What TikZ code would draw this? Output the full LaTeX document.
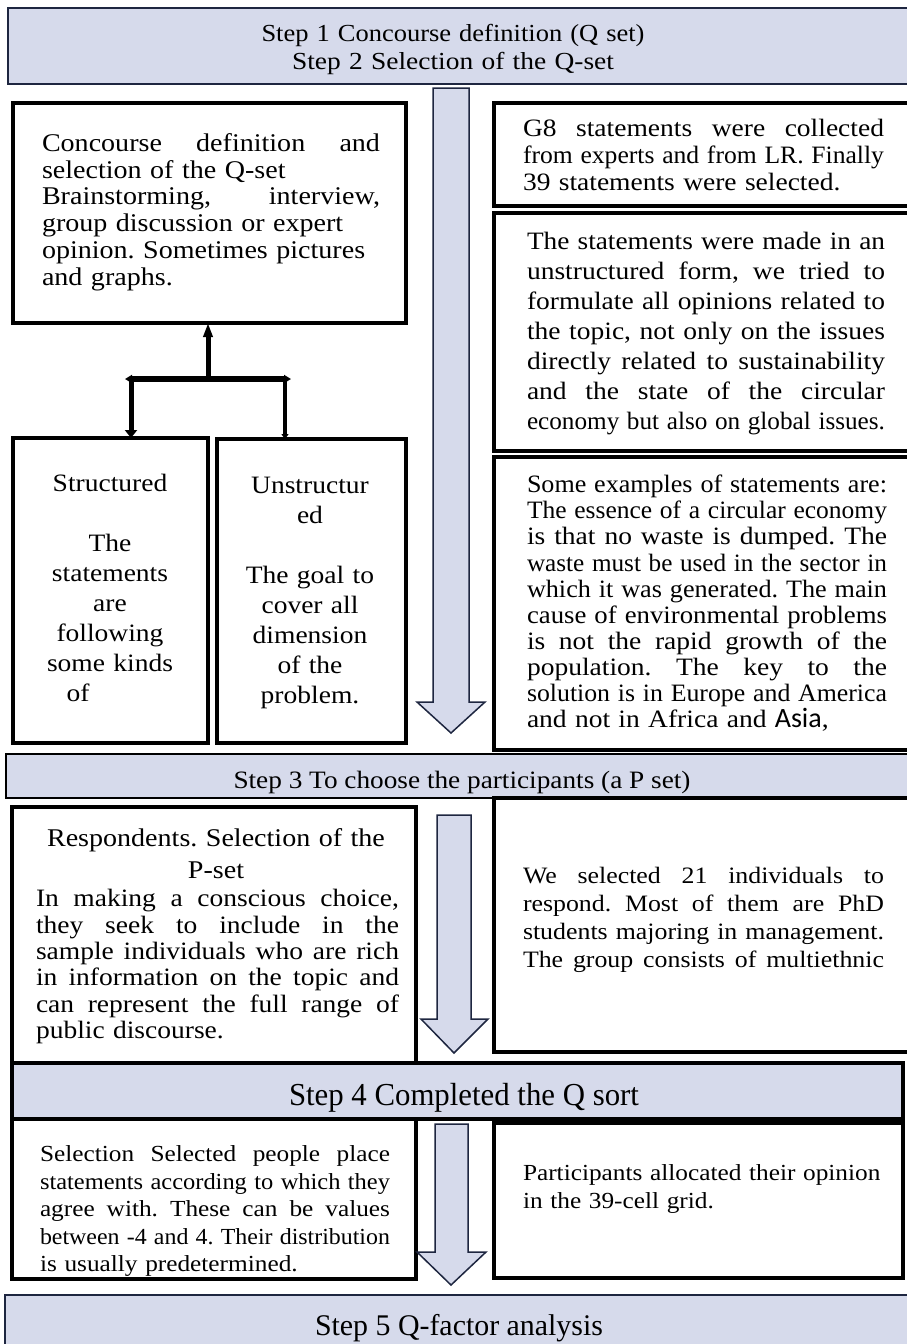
\documentclass[tikz,border=0pt]{standalone}
\usepackage{fontspec}
\usepackage{graphicx}
\usetikzlibrary{arrows.meta}
\setmainfont[FakeStretch=1.1]{Liberation Serif}
\newfontfamily\carl{Carlito}
\setlength\parindent{0pt}
\frenchspacing
\definecolor{lav}{HTML}{D6DAEB}
\definecolor{navy}{HTML}{1E2640}
\newsavebox\jlbox
\newcommand\jl[1]{\leavevmode\sbox\jlbox{#1}\ifdim\wd\jlbox>\hsize\pgfmathsetmacro\jlr{\the\hsize/\the\wd\jlbox}\scalebox{\jlr}[1]{\usebox\jlbox}\else{\spaceskip=\fontdimen2\font plus 1fil\relax\xspaceskip=\spaceskip\hbox to \hsize{#1}}\fi}
\newcommand\fitw[2]{\sbox\jlbox{#2}\pgfmathsetmacro\jlr{#1/\the\wd\jlbox}\scalebox{\jlr}[1]{\usebox\jlbox}}
\newcommand\tp{\rule{0pt}{30pt}}
\begin{document}
\begin{tikzpicture}[x=1pt,y=-1pt,
  box/.style={draw=black, line width=4pt, inner sep=0pt, outer sep=0pt, anchor=north west},
  banner/.style={fill=lav, draw=navy, line width=2pt, inner sep=0pt, outer sep=0pt, anchor=north west},
  bigarrow/.style={fill=lav, draw=navy, line width=1.5pt, line join=miter},
  txt/.style={inner sep=0pt, outer sep=0pt, anchor=north west, align=left},
  ctxt/.style={inner sep=0pt, outer sep=0pt, anchor=north, align=center},
  btxt/.style={inner sep=0pt, outer sep=0pt, anchor=base},
  tree/.style={draw=black, line width=5pt}]
\useasboundingbox (0,0) rectangle (906,1344);

% ---------- Step 1/2 banner ----------
\node[banner, minimum width=904, minimum height=76] (B1) at (8,8) {};
\node[ctxt, text width=600, font=\fontsize{24.5}{27.3}\selectfont] (tB1) at (453,11.7)
  {\tp\fitw{383pt}{Step 1 Concourse definition (Q set)}\\\fitw{322pt}{Step 2 Selection of the Q-set}};

% ---------- big arrow 1 ----------
\draw[bigarrow] (433,88) -- (469,88) -- (469,702) -- (485,702) -- (451,733) -- (417,702) -- (433,702) -- cycle;

% ---------- left column, step 1/2 ----------
\node[box, minimum width=393, minimum height=220] (A) at (13,103) {};
\node[txt, text width=338, font=\fontsize{25.5}{26.7}\selectfont] (tA) at (42,121.5)
  {\tp\jl{Concourse definition and}\\selection of the Q-set\\\jl{Brainstorming, interview,}\\group discussion or expert\\opinion. Sometimes pictures\\and graphs.};

\node[box, minimum width=195, minimum height=305] (S) at (13,438) {};
\node[box, minimum width=189, minimum height=304] (U) at (217,439) {};
\node[ctxt, text width=185, font=\fontsize{25}{30}\selectfont] (tS) at (110,461.7)
  {\tp Structured\\[30pt]The\\statements\\are\\following\\some kinds\\\hspace*{-64pt}of};
\node[ctxt, text width=185, font=\fontsize{25}{30}\selectfont] (tU) at (310,463.3)
  {\tp Unstructur\\ed\\[30pt]The goal to\\cover all\\dimension\\of the\\problem.};

% tree connector
\coordinate (fork) at (208,379);
\coordinate (bl) at (131,379);
\coordinate (br) at (285,379);
\draw[tree, -{Triangle[length=14pt,width=9pt]}] (fork) -- (fork |- A.south);
\draw[line width=6pt, {Triangle[length=7pt,width=8pt]}-{Triangle[length=7pt,width=8pt]}] ([xshift=-6pt]bl) -- ([xshift=6pt]br);
\draw[tree, -{Triangle[length=8pt,width=12pt]}] (bl) -- (bl |- S.north);
\draw[line width=4.5pt, -{Triangle[length=5pt,width=7pt]}] (br) -- (br |- U.north);

% ---------- right column, step 1/2 ----------
\node[box, minimum width=418, minimum height=103] (R1) at (494,103) {};
\node[txt, text width=361, font=\fontsize{25}{27}\selectfont] (tR1) at (523,106)
  {\tp\jl{G8 statements were collected}\\\jl{from experts and from LR. Finally}\\39 statements were selected.};

\node[box, minimum width=418, minimum height=238] (R2) at (494,213) {};
\node[txt, text width=358, font=\fontsize{25}{30}\selectfont] (tR2) at (527,219.3)
  {\tp\jl{The statements were made in an}\\\jl{unstructured form, we tried to}\\\jl{formulate all opinions related to}\\\jl{the topic, not only on the issues}\\\jl{directly related to sustainability}\\\jl{and the state of the circular}\\\jl{economy but also on global issues.}};

\node[box, minimum width=418, minimum height=293] (R3) at (494,457) {};
\node[txt, text width=360, font=\fontsize{25}{26.1}\selectfont] (tR3) at (527,462.7)
  {\tp\jl{Some examples of statements are:}\\\jl{The essence of a circular economy}\\\jl{is that no waste is dumped. The}\\\jl{waste must be used in the sector in}\\\jl{which it was generated. The main}\\\jl{cause of environmental problems}\\\jl{is not the rapid growth of the}\\\jl{population. The key to the}\\\jl{solution is in Europe and America}\\and not in Africa and {\carl\fontsize{28}{26.1}\selectfont Asia},};

% ---------- Step 3 ----------
\node[banner, draw=black, minimum width=906, minimum height=44] (B3) at (6,754) {};
\node[btxt, font=\fontsize{25}{30}\selectfont] (tB3) at (462,788) {\fitw{457pt}{Step 3 To choose the participants (a P set)}};

\node[box, minimum width=404, minimum height=256] (P) at (12,807) {};
\node[ctxt, text width=390, font=\fontsize{25.5}{32}\selectfont] (tP1) at (216,816) {\tp Respondents. Selection of the\\P-set};
\node[txt, text width=363, font=\fontsize{25}{26.4}\selectfont] (tP2) at (36,876.7)
  {\tp\jl{In making a conscious choice,}\\\jl{they seek to include in the}\\\jl{sample individuals who are rich}\\\jl{in information on the topic and}\\\jl{can represent the full range of}\\public discourse.};

\node[box, minimum width=418, minimum height=254] (R4) at (494,798) {};
\node[txt, text width=361, font=\fontsize{23.5}{28}\selectfont] (tR4) at (523,853.3)
  {\tp\jl{We selected 21 individuals to}\\\jl{respond. Most of them are PhD}\\\jl{students majoring in management.}\\\jl{The group consists of multiethnic}};

\draw[bigarrow] (437,815) -- (471,815) -- (471,1019) -- (488,1019) -- (454,1053) -- (421,1019) -- (437,1019) -- cycle;

% ---------- Step 4 ----------
\node[banner, draw=black, line width=4pt, minimum width=891, minimum height=56] (B4) at (12,1063) {};
\node[btxt, font=\fontsize{32}{36}\selectfont] (tB4) at (464,1105) {\fitw{350pt}{Step 4 Completed the Q sort}};

\node[box, minimum width=404, minimum height=160] (L5) at (12,1119) {};
\node[txt, text width=350, font=\fontsize{23}{27.5}\selectfont] (tL5) at (40,1131.7)
  {\tp\jl{Selection Selected people place}\\\jl{statements according to which they}\\\jl{agree with. These can be values}\\\jl{between -4 and 4. Their distribution}\\is usually predetermined.};

\node[box, minimum width=409, minimum height=155] (R5) at (494,1123) {};
\node[txt, text width=370, font=\fontsize{23}{28}\selectfont] (tR5) at (523,1150)
  {\tp Participants allocated their opinion\\in the 39-cell grid.};

\draw[bigarrow] (435,1124) -- (468,1124) -- (468,1252) -- (486,1252) -- (451,1285) -- (417,1252) -- (435,1252) -- cycle;

% ---------- Step 5 ----------
\node[banner, minimum width=907, minimum height=60] (B5) at (5,1295) {};
\node[btxt, font=\fontsize{30}{34}\selectfont] (tB5) at (459,1335) {\fitw{288pt}{Step 5 Q-factor analysis}};
\end{tikzpicture}
\end{document}
